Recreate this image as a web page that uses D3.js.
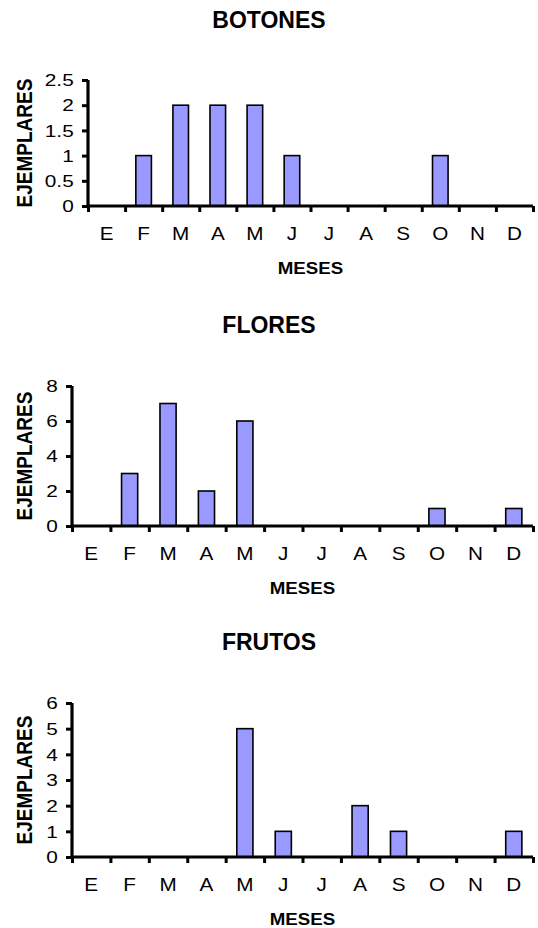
<!DOCTYPE html>
<html>
<head>
<meta charset="utf-8">
<script src="https://cdn.jsdelivr.net/npm/d3@7"></script>
<style>
  body { margin: 0; background: #fff; }
  svg { display: block; }
  text { font-family: "Liberation Sans", Arial, sans-serif; fill: #000; }
</style>
</head>
<body>
<svg id="chart" width="538" height="928"></svg>
<script>
const months = ["E","F","M","A","M","J","J","A","S","O","N","D"];
const botones = [0,1,2,2,2,1,0,0,0,1,0,0];
const flores  = [0,3,7,2,6,0,0,0,0,1,0,1];
const frutos  = [0,0,0,0,5,1,0,2,1,0,0,1];
const botonesTicks = [0,0.5,1,1.5,2,2.5];
const floresTicks  = [0,2,4,6,8];
const frutosTicks  = [0,1,2,3,4,5,6];
const titles = ["BOTONES","FLORES","FRUTOS"];
const xTitle = "MESES";
const yTitle = "EJEMPLARES";

const panels = [
  {title: titles[0], values: botones, ticks: botonesTicks, x0: 88, x1: 533, yTop: 80,  yZero: 206, titleY: 28},
  {title: titles[1], values: flores,  ticks: floresTicks,  x0: 72, x1: 533, yTop: 386, yZero: 526, titleY: 333},
  {title: titles[2], values: frutos,  ticks: frutosTicks,  x0: 72, x1: 533, yTop: 703, yZero: 857, titleY: 650}
];

const svg = d3.select("#chart");
const fill = "#9999ff";

panels.forEach((p, pi) => {
  const g = svg.append("g");
  const idx = d3.range(months.length);
  const x = d3.scaleBand().domain(idx).range([p.x0, p.x1]).paddingInner(0.58).paddingOuter(0.29);
  const xb = d3.scaleLinear().domain([0, months.length]).range([p.x0, p.x1]);
  const y = d3.scaleLinear().domain([0, d3.max(p.ticks)]).range([p.yZero, p.yTop]);

  // title
  g.append("text").attr("x", 269).attr("y", p.titleY)
    .attr("text-anchor", "middle").style("font-size", "23px").style("font-weight", "bold")
    .text(p.title);

  // bars
  g.selectAll("rect.bar").data(p.values.map((v, i) => ({v, i})).filter(d => d.v > 0))
    .enter().append("rect")
    .attr("x", d => x(d.i)).attr("width", x.bandwidth())
    .attr("y", d => y(d.v)).attr("height", d => y(0) - y(d.v))
    .attr("fill", fill).attr("stroke", "#000").attr("stroke-width", 1.6);

  // y axis
  const ya = g.append("g").attr("transform", `translate(${p.x0},0)`)
    .call(d3.axisLeft(y).tickValues(p.ticks).tickSize(6).tickPadding(5).tickFormat(d3.format("")));
  ya.select(".domain").attr("stroke-width", 3.2).attr("d", `M0,${p.yTop}V${p.yZero}`);
  ya.selectAll(".tick line").attr("stroke-width", 3);
  ya.selectAll(".tick text").style("font-size", "16px").attr("font-family", null)
    .attr("transform", "scale(1.3,1)").attr("x", -11).attr("dy", "0.36em");

  // x axis boundary ticks
  const xa = g.append("g").attr("transform", `translate(0,${p.yZero})`)
    .call(d3.axisBottom(xb).tickValues(d3.range(months.length + 1)).tickSize(6).tickFormat(""));
  xa.select(".domain").attr("stroke-width", 3.2).attr("d", `M${p.x0},0H${p.x1}`);
  xa.selectAll(".tick line").attr("stroke-width", 3);

  // month labels
  const xl = g.append("g").attr("transform", `translate(0,${p.yZero})`)
    .call(d3.axisBottom(x).tickSize(0).tickPadding(21).tickFormat(i => months[i]));
  xl.select(".domain").remove();
  xl.selectAll(".tick text").style("font-size", "18px").attr("font-family", null)
    .attr("transform", "scale(1.15,1)");

  // x title
  g.append("text").attr("transform", `translate(${(p.x0 + p.x1) / 2},${p.yZero + 68}) scale(1.1,1)`)
    .attr("text-anchor", "middle").style("font-size", "17px").style("font-weight", "bold")
    .text(xTitle);

  // y title
  g.append("text")
    .attr("transform", `translate(32,${(p.yTop + p.yZero) / 2}) rotate(-90) scale(1,1.15)`)
    .attr("text-anchor", "middle").style("font-size", "19px").style("font-weight", "bold")
    .text(yTitle);
});
</script>
</body>
</html>
